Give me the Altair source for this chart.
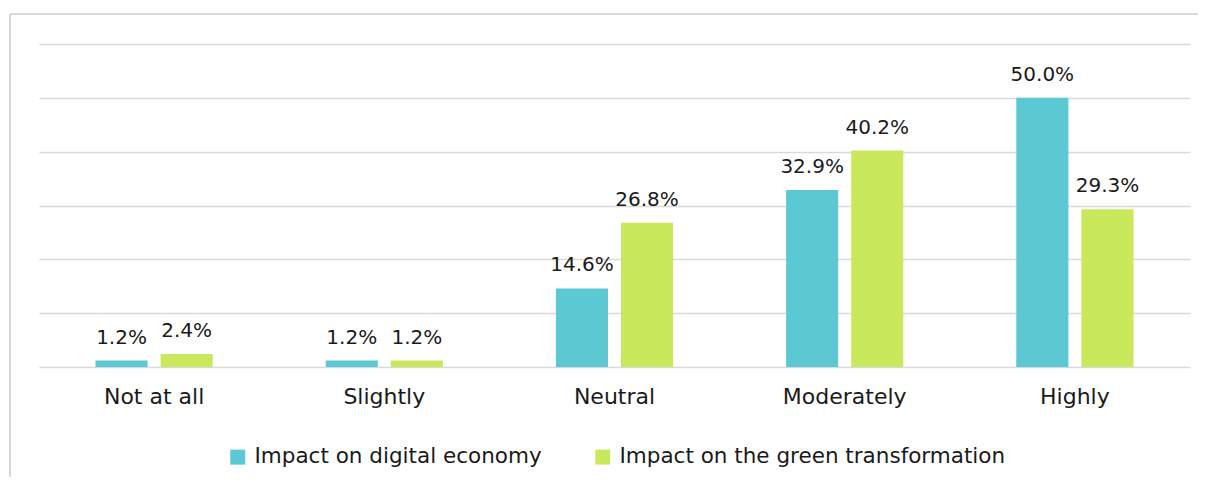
import altair as alt
import pandas as pd

categories = ["Not at all", "Slightly", "Neutral", "Moderately", "Highly"]
series = ["Impact on digital economy", "Impact on the green transformation"]
digital = [1.2, 1.2, 14.6, 32.9, 50.0]
green = [2.4, 1.2, 26.8, 40.2, 29.3]
colors = ["#5BC8D3", "#C9E85C"]

rows = []
for c, d, g in zip(categories, digital, green):
    rows.append({"cat": c, "series": series[0], "value": d})
    rows.append({"cat": c, "series": series[1], "value": g})
df = pd.DataFrame(rows)
df["label"] = df["value"].map(lambda v: f"{v:.1f}%")

FONT = "DejaVu Sans"

x = alt.X("cat:N", sort=categories, title=None,
          scale=alt.Scale(paddingInner=0.491, paddingOuter=0.2455),
          axis=alt.Axis(labelAngle=0, labelFontSize=22, labelFont=FONT,
                        labelColor="#1a1a1a", ticks=False, domain=False,
                        labelPadding=19))
xoff = alt.XOffset("series:N", sort=series,
                   scale=alt.Scale(paddingInner=0.2, paddingOuter=0))
y = alt.Y("value:Q", title=None,
          scale=alt.Scale(domain=[0, 60], nice=False),
          axis=alt.Axis(values=[0, 10, 20, 30, 40, 50, 60], labels=False,
                        ticks=False, domain=False, gridColor="#d9d9d9",
                        gridWidth=1.6))

base = alt.Chart(df)

bars = base.mark_bar().encode(
    x=x, xOffset=xoff, y=y,
    color=alt.Color("series:N", sort=series,
                    scale=alt.Scale(domain=series, range=colors),
                    legend=alt.Legend(title=None, orient="none", direction="horizontal",
                                      legendX=188, legendY=402,
                                      symbolType="square", symbolSize=225,
                                      symbolStrokeWidth=0,
                                      labelFontSize=21.5, labelFont=FONT,
                                      labelColor="#1a1a1a", labelLimit=600,
                                      columnPadding=50, labelOffset=6)),
)

labels = base.mark_text(baseline="bottom", dy=-13, fontSize=20, font=FONT,
                        color="#1a1a1a").encode(
    x=x, xOffset=xoff, y=y, text="label:N"
)

border_top = alt.Chart(pd.DataFrame({"a": [0]})).mark_rule(
    stroke="#d9d9d9", strokeWidth=2
).encode(x=alt.value(-29), x2=alt.value(1170), y=alt.value(-30))

border_left = alt.Chart(pd.DataFrame({"a": [0]})).mark_rule(
    stroke="#d9d9d9", strokeWidth=2
).encode(x=alt.value(-29), y=alt.value(-30), y2=alt.value(470))

chart = alt.layer(border_top, border_left, bars, labels).properties(
    width=1151, height=323,
    autosize=alt.AutoSizeParams(type="none"),
    padding={"left": 31, "top": 36, "right": 8, "bottom": 110},
).configure_view(stroke=None)

chart.save("out.html", embed_options={"renderer": "svg", "actions": False})
